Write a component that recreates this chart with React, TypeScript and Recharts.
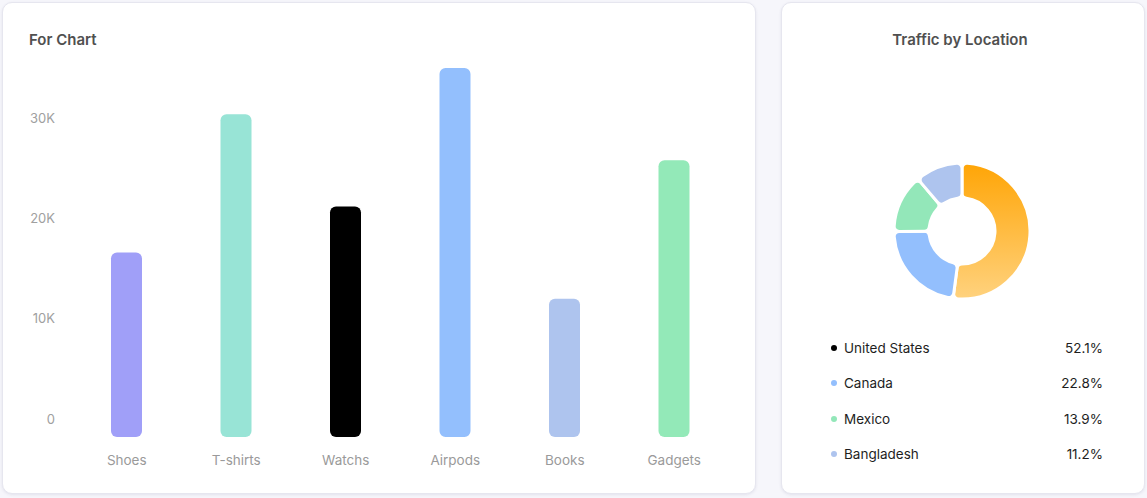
import React from "react";
import { BarChart, Bar, XAxis, YAxis, Cell, PieChart, Pie } from "recharts";

const categories = ["Shoes", "T-shirts", "Watchs", "Airpods", "Books", "Gadgets"];
const sales = [18400, 32200, 23000, 36800, 13800, 27600];
const barColors = ["#a09ff8", "#98e4d6", "#000000", "#93bffd", "#aec4ee", "#93e9b8"];
const yTicks = [0, 10000, 20000, 30000];

const locations = ["United States", "Canada", "Mexico", "Bangladesh"];
const shares = [52.1, 22.8, 13.9, 11.2];
const sliceColors = ["url(#usGrad)", "#93bffd", "#93e7b9", "#aec4ee"];
const dotColors = ["#000000", "#93bffd", "#93e7b9", "#aec4ee"];

const barData = categories.map((name, i) => ({ name, value: sales[i] }));
const pieData = locations.map((name, i) => ({ name, value: shares[i] }));

const font = "Inter, 'Noto Sans', sans-serif";

const card: React.CSSProperties = {
  position: "absolute",
  background: "#fff",
  borderRadius: 10,
  border: "1px solid #e6e6ef",
  boxShadow: "0 1px 3px rgba(60,60,110,0.10)",
  boxSizing: "border-box",
};

const title: React.CSSProperties = {
  position: "absolute",
  fontSize: 15,
  fontWeight: 600,
  color: "#505050",
  lineHeight: "20px",
};

export default function App() {
  return (
    <div
      style={{
        position: "fixed",
        left: 0,
        top: 0,
        width: 1147,
        height: 498,
        background: "#f6f6fb",
        fontFamily: font,
        overflow: "hidden",
      }}
    >
      <div style={{ ...card, left: 2, top: 2, width: 754, height: 492 }} />
      <div style={{ ...title, left: 29, top: 30 }}>For Chart</div>
      <div style={{ position: "absolute", left: 0, top: 0 }}>
        <BarChart
          width={755}
          height={498}
          data={barData}
          margin={{ top: 36, right: 26, left: 1, bottom: 31 }}
        >
          <XAxis
            dataKey="name"
            axisLine={false}
            tickLine={false}
            tickSize={0}
            tickMargin={18}
            height={30}
            tick={{ fill: "#9a9a9a", fontSize: 13.5, fontFamily: font }}
          />
          <YAxis
            width={71}
            domain={[0, 40000]}
            ticks={yTicks}
            axisLine={false}
            tickLine={false}
            tickSize={0}
            tickMargin={17}
            tickFormatter={(v: number) => (v === 0 ? "0" : `${v / 1000}K`)}
            tick={{ fill: "#a0a0a0", fontSize: 13, fontFamily: font, dy: -18 }}
          />
          <Bar dataKey="value" barSize={31} radius={[6, 6, 6, 6]} isAnimationActive={false}>
            {barData.map((d, i) => (
              <Cell key={d.name} fill={barColors[i]} />
            ))}
          </Bar>
        </BarChart>
      </div>

      <div style={{ ...card, left: 781, top: 2, width: 364, height: 492 }} />
      <div style={{ ...title, left: 781, width: 358, top: 30, textAlign: "center" }}>
        Traffic by Location
      </div>
      <div style={{ position: "absolute", left: 857, top: 126 }}>
        <PieChart width={200} height={200}>
          <defs>
            <linearGradient id="usGrad" x1="0" y1="0" x2="0" y2="1">
              <stop offset="0%" stopColor="#ffa506" />
              <stop offset="100%" stopColor="#ffd27e" />
            </linearGradient>
          </defs>
          <Pie
            data={pieData}
            dataKey="value"
            cx={100}
            cy={100}
            innerRadius={33}
            outerRadius={68}
            startAngle={90}
            endAngle={-270}
            cornerRadius={5}
            stroke="#ffffff"
            strokeWidth={3}
            isAnimationActive={false}
          >
            {pieData.map((d, i) => (
              <Cell key={d.name} fill={sliceColors[i]} />
            ))}
          </Pie>
        </PieChart>
      </div>
      {locations.map((loc, i) => (
        <div
          key={loc}
          style={{
            position: "absolute",
            left: 831,
            width: 272,
            top: 339 + i * 35.3,
            height: 18,
            display: "flex",
            alignItems: "center",
            fontSize: 13.5,
            color: "#1e1e1e",
          }}
        >
          <span
            style={{
              width: 6,
              height: 6,
              borderRadius: 3,
              background: dotColors[i],
              marginRight: 7,
            }}
          />
          <span style={{ flex: 1 }}>{loc}</span>
          <span>{shares[i]}%</span>
        </div>
      ))}
    </div>
  );
}
